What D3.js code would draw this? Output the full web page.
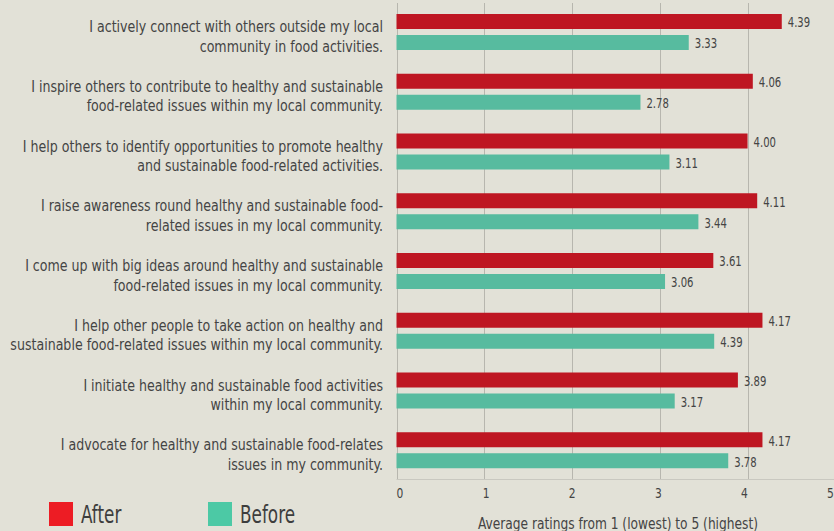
<!DOCTYPE html>
<html>
<head>
<meta charset="utf-8">
<script src="https://cdn.jsdelivr.net/npm/d3@7"></script>
<style>
  html, body { margin: 0; padding: 0; background: #e2e1d7; }
  svg { display: block; }
  text { font-family: "DejaVu Sans Condensed", "DejaVu Sans", sans-serif; }
</style>
</head>
<body>
<svg id="chart" width="834" height="531"></svg>
<script>
// ---- data ----
const categories = [
  ["I actively connect with others outside my local", "community in food activities."],
  ["I inspire others to contribute to healthy and sustainable", "food-related issues within my local community."],
  ["I help others to identify opportunities to promote healthy", "and sustainable food-related activities."],
  ["I raise awareness round healthy and sustainable food-", "related issues in my local community."],
  ["I come up with big ideas around healthy and sustainable", "food-related issues in my local community."],
  ["I help other people to take action on healthy and", "sustainable food-related issues within my local community."],
  ["I initiate healthy and sustainable food activities", "within my local community."],
  ["I advocate for healthy and sustainable food-relates", "issues in my community."]
];
const afterValues  = [4.39, 4.06, 4.00, 4.11, 3.61, 4.17, 3.89, 4.17];
const beforeValues = [3.33, 2.78, 3.11, 3.44, 3.06, 3.62, 3.17, 3.78];
const afterLabels  = ["4.39", "4.06", "4.00", "4.11", "3.61", "4.17", "3.89", "4.17"];
const beforeLabels = ["3.33", "2.78", "3.11", "3.44", "3.06", "4.39", "3.17", "3.78"];
const xTicks = [0, 1, 2, 3, 4, 5];
const seriesNames = ["After", "Before"];
const axisTitle = "Average ratings from 1 (lowest) to 5 (highest)";

// ---- styles ----
const barColors = { After: "#be1622", Before: "#57bb9f" };
const legendColors = { After: "#ed1c24", Before: "#4cc9a5" };
const textColor = "#444444";
const gridColor = "#b7b6ae";

const svg = d3.select("#chart");
const W = 834, H = 531;

const x = d3.scaleLinear().domain([0, 5]).range([396.5, 835.3]);
const xLabel = d3.scaleLinear().domain([0, 5]).range([400, 830.5]);
const idx = d3.range(categories.length);
const y = d3.scaleBand().domain(idx).range([2, 480]).paddingInner(0).paddingOuter(0);

const plotTop = 3, plotBottom = 479.5;

// condensed text helper
function ctext(sel, tx, ty, k) {
  return sel.attr("transform", `translate(${tx},${ty}) scale(${k},1)`);
}

// gridlines
svg.append("g").selectAll("line").data(xTicks).join("line")
  .attr("x1", d => Math.round(x(d)) + 0.5).attr("x2", d => Math.round(x(d)) + 0.5)
  .attr("y1", plotTop).attr("y2", plotBottom)
  .attr("stroke", gridColor).attr("stroke-width", 1);

// axis baseline
svg.append("line")
  .attr("x1", x(0)).attr("x2", W)
  .attr("y1", plotBottom).attr("y2", plotBottom)
  .attr("stroke", "#c9c8c0").attr("stroke-width", 1);

// bars
const barH = 15;
const gBars = svg.append("g");
gBars.selectAll("rect.after").data(idx).join("rect")
  .attr("class", "after")
  .attr("x", x(0)).attr("y", i => y(i) + 12)
  .attr("width", i => x(afterValues[i]) - x(0)).attr("height", barH)
  .attr("fill", barColors.After);
gBars.selectAll("rect.before").data(idx).join("rect")
  .attr("class", "before")
  .attr("x", x(0)).attr("y", i => y(i) + 33)
  .attr("width", i => x(beforeValues[i]) - x(0)).attr("height", barH)
  .attr("fill", barColors.Before);

// value labels
const gVals = svg.append("g").attr("font-size", 14).attr("fill", textColor);
idx.forEach(i => {
  ctext(gVals.append("text"), x(afterValues[i]) + 6, y(i) + 12 + 13.3, 0.8).text(afterLabels[i]);
  ctext(gVals.append("text"), x(beforeValues[i]) + 6, y(i) + 33 + 13.3, 0.8).text(beforeLabels[i]);
});

// category labels
const gCat = svg.append("g").attr("font-size", 16.5).attr("fill", textColor).attr("text-anchor", "end");
idx.forEach(i => {
  categories[i].forEach((line, j) => {
    ctext(gCat.append("text"), 383, y(i) + 30 + j * 19.5, 0.85).text(line);
  });
});

// tick labels
const gTick = svg.append("g").attr("font-size", 14).attr("fill", textColor).attr("text-anchor", "middle");
xTicks.forEach(d => {
  ctext(gTick.append("text"), xLabel(d), 498.3, 0.85).text(d);
});

// axis title
ctext(svg.append("text"), 618, 528.5, 0.85)
  .attr("font-size", 16).attr("fill", textColor).attr("text-anchor", "middle")
  .text(axisTitle);

// legend
const legendX = [49, 208];
const gLeg = svg.append("g");
seriesNames.forEach((s, k) => {
  gLeg.append("rect")
    .attr("x", legendX[k]).attr("y", 502).attr("width", 24).attr("height", 24)
    .attr("fill", legendColors[s]);
  ctext(gLeg.append("text"), legendX[k] + 32, 523.3, 0.78)
    .attr("font-size", 24).attr("fill", "#3d3d3d")
    .text(s);
});
</script>
</body>
</html>
